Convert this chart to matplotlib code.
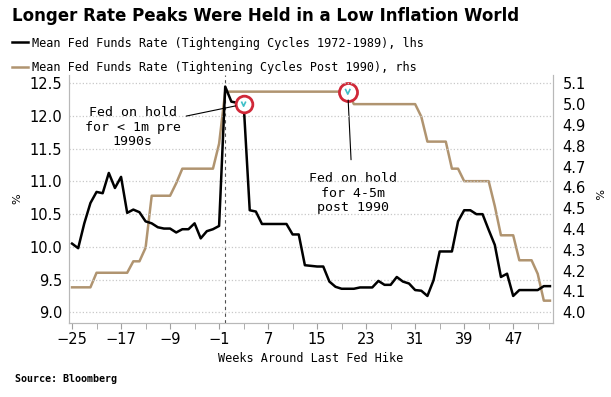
import numpy as np
import matplotlib.pyplot as plt
from matplotlib.ticker import FixedLocator, NullFormatter

# === data ===
weeks = np.arange(-25, 54)

# mean fed funds rate, tightening cycles 1972-1989 (lhs)
rate_pre90 = [10.05, 9.98, 10.36, 10.67, 10.84, 10.82, 11.13, 10.90, 11.07, 10.52,
              10.57, 10.53, 10.39, 10.36, 10.30, 10.28, 10.28, 10.22, 10.27, 10.27,
              10.36, 10.13, 10.24, 10.27, 10.32, 12.45, 12.22, 12.20, 12.20, 10.56,
              10.54, 10.35, 10.35, 10.35, 10.35, 10.35, 10.19, 10.19, 9.72, 9.71,
              9.70, 9.70, 9.47, 9.39, 9.36, 9.36, 9.36, 9.38, 9.38, 9.38,
              9.48, 9.42, 9.42, 9.54, 9.47, 9.44, 9.34, 9.33, 9.25, 9.49,
              9.93, 9.93, 9.93, 10.39, 10.56, 10.56, 10.50, 10.50, 10.26, 10.03,
              9.54, 9.59, 9.25, 9.34, 9.34, 9.34, 9.34, 9.40, 9.40]

# mean fed funds rate, tightening cycles post 1990 (rhs)
rate_post90 = [4.12, 4.12, 4.12, 4.12, 4.19, 4.19, 4.19, 4.19, 4.19, 4.19,
               4.245, 4.245, 4.31, 4.56, 4.56, 4.56, 4.56, 4.62, 4.69, 4.69,
               4.69, 4.69, 4.69, 4.69, 4.81, 5.06, 5.06, 5.06, 5.06, 5.06,
               5.06, 5.06, 5.06, 5.06, 5.06, 5.06, 5.06, 5.06, 5.06, 5.06,
               5.06, 5.06, 5.06, 5.06, 5.06, 5.06, 5.00, 5.00, 5.00, 5.00,
               5.00, 5.00, 5.00, 5.00, 5.00, 5.00, 5.00, 4.94, 4.82, 4.82,
               4.82, 4.82, 4.69, 4.69, 4.63, 4.63, 4.63, 4.63, 4.63, 4.51,
               4.37, 4.37, 4.37, 4.25, 4.25, 4.25, 4.185, 4.056, 4.056]

left_ticks = [9.0, 9.5, 10.0, 10.5, 11.0, 11.5, 12.0, 12.5]
right_ticks = [4.0, 4.1, 4.2, 4.3, 4.4, 4.5, 4.6, 4.7, 4.8, 4.9, 5.0, 5.1]
label_weeks = [-25, -17, -9, -1, 7, 15, 23, 31, 39, 47]
minor_weeks = [-21, -13, -5, 3, 11, 19, 27, 35, 43, 51]

# where the Fed stopped hiking / held (circled points)
hold_pre90 = (3, 12.18)
hold_post90 = (20, 5.06)

black = "#000000"
brown = "#b09470"
grid_c = "#c8c8c8"
mono = "DejaVu Sans Mono"

fig = plt.figure(figsize=(6.11, 3.97), dpi=100)
ax = fig.add_axes([0.1129, 0.1871, 0.7922, 0.624])
ax2 = ax.twinx()

ax.plot(weeks, rate_pre90, color=black, lw=1.8, zorder=3,
        label="Mean Fed Funds Rate (Tightenging Cycles 1972-1989), lhs")
ax2.plot(weeks, rate_post90, color=brown, lw=1.8, zorder=2,
         label="Mean Fed Funds Rate (Tightening Cycles Post 1990), rhs")

# black line should sit above the brown one
ax.set_zorder(ax2.get_zorder() + 1)
ax.patch.set_visible(False)

ax.set_xlim(-25.5, 53.5)
ax.set_ylim(8.841, 12.627)
ax2.set_ylim(3.950, 5.140)

ax.xaxis.set_major_locator(FixedLocator(label_weeks))
ax.xaxis.set_minor_locator(FixedLocator(minor_weeks))
ax.xaxis.set_minor_formatter(NullFormatter())
ax.set_yticks(left_ticks)
ax.set_yticklabels([f"{v:.1f}" for v in left_ticks])
ax2.set_yticks(right_ticks)
ax2.set_yticklabels([f"{v:.1f}" for v in right_ticks])

ax.tick_params(axis="x", which="both", direction="out", length=4, color="#a0a0a0",
               labelsize=10.5, pad=3)
ax.tick_params(axis="y", length=0, labelsize=10.5, pad=5)
ax2.tick_params(axis="y", length=0, labelsize=10.5, pad=7)

ax.grid(axis="y", linestyle=":", color=grid_c, lw=0.9)
ax.axvline(0, color="#505050", lw=0.8, ls=(0, (3, 3)), zorder=1)

for a in (ax, ax2):
    a.spines["top"].set_visible(False)
    for s in ("left", "right", "bottom"):
        a.spines[s].set_color("#b8b8b8")
        a.spines[s].set_linewidth(0.8)

ax.set_xlabel("Weeks Around Last Fed Hike", family=mono, fontsize=8.5, labelpad=3)
fig.text(0.028, 0.50, "%", rotation=90, fontsize=8, ha="center", va="center")
fig.text(0.977, 0.51, "%", rotation=-90, fontsize=8, ha="center", va="center")

# circles marking the hold periods
ax.plot(*hold_pre90, marker="o", ms=12, mfc="white", mec="#d02838", mew=2, zorder=5)
ax.plot([hold_pre90[0] - 0.3, hold_pre90[0], hold_pre90[0] + 0.3],
        [hold_pre90[1] + 0.03, hold_pre90[1] - 0.03, hold_pre90[1] + 0.03],
        color="#40c0c8", lw=1.2, zorder=6)
ax2.plot(*hold_post90, marker="o", ms=13, mfc="white", mec="#d02838", mew=2, zorder=5)
ax2.plot([hold_post90[0] - 0.35, hold_post90[0], hold_post90[0] + 0.35],
         [hold_post90[1] + 0.01, hold_post90[1] - 0.012, hold_post90[1] + 0.01],
         color="#40c0c8", lw=1.2, zorder=6)

ax.annotate("Fed on hold\nfor < 1m pre\n1990s", xy=hold_pre90, xytext=(-15.1, 11.83),
            ha="center", va="center", family=mono, fontsize=9.5, linespacing=1.15,
            arrowprops=dict(arrowstyle="-", color="black", lw=0.8, shrinkA=2, shrinkB=6),
            zorder=7)
ax2.annotate("Fed on hold\nfor 4-5m\npost 1990", xy=hold_post90, xytext=(20.8, 4.572),
             ha="center", va="center", family=mono, fontsize=9.5, linespacing=1.15,
             arrowprops=dict(arrowstyle="-", color="black", lw=0.8, shrinkA=7, shrinkB=6),
             zorder=7)

# title, legend, source
fig.text(0.02, 0.96, "Longer Rate Peaks Were Held in a Low Inflation World",
         fontsize=12, fontweight="bold", ha="left", va="center")
h1, l1 = ax.get_legend_handles_labels()
h2, l2 = ax2.get_legend_handles_labels()
fig.legend(h1 + h2, l1 + l2, loc="upper left", bbox_to_anchor=(0.019, 0.908),
           frameon=False, prop={"family": mono, "size": 8.5}, handlelength=1.4,
           handletextpad=0.3, labelspacing=0.95, borderpad=0, borderaxespad=0)
fig.text(0.024, 0.045, "Source: Bloomberg", family=mono, fontsize=7.2,
         fontweight="bold", ha="left", va="center")

fig.savefig("out.png", dpi=100)
